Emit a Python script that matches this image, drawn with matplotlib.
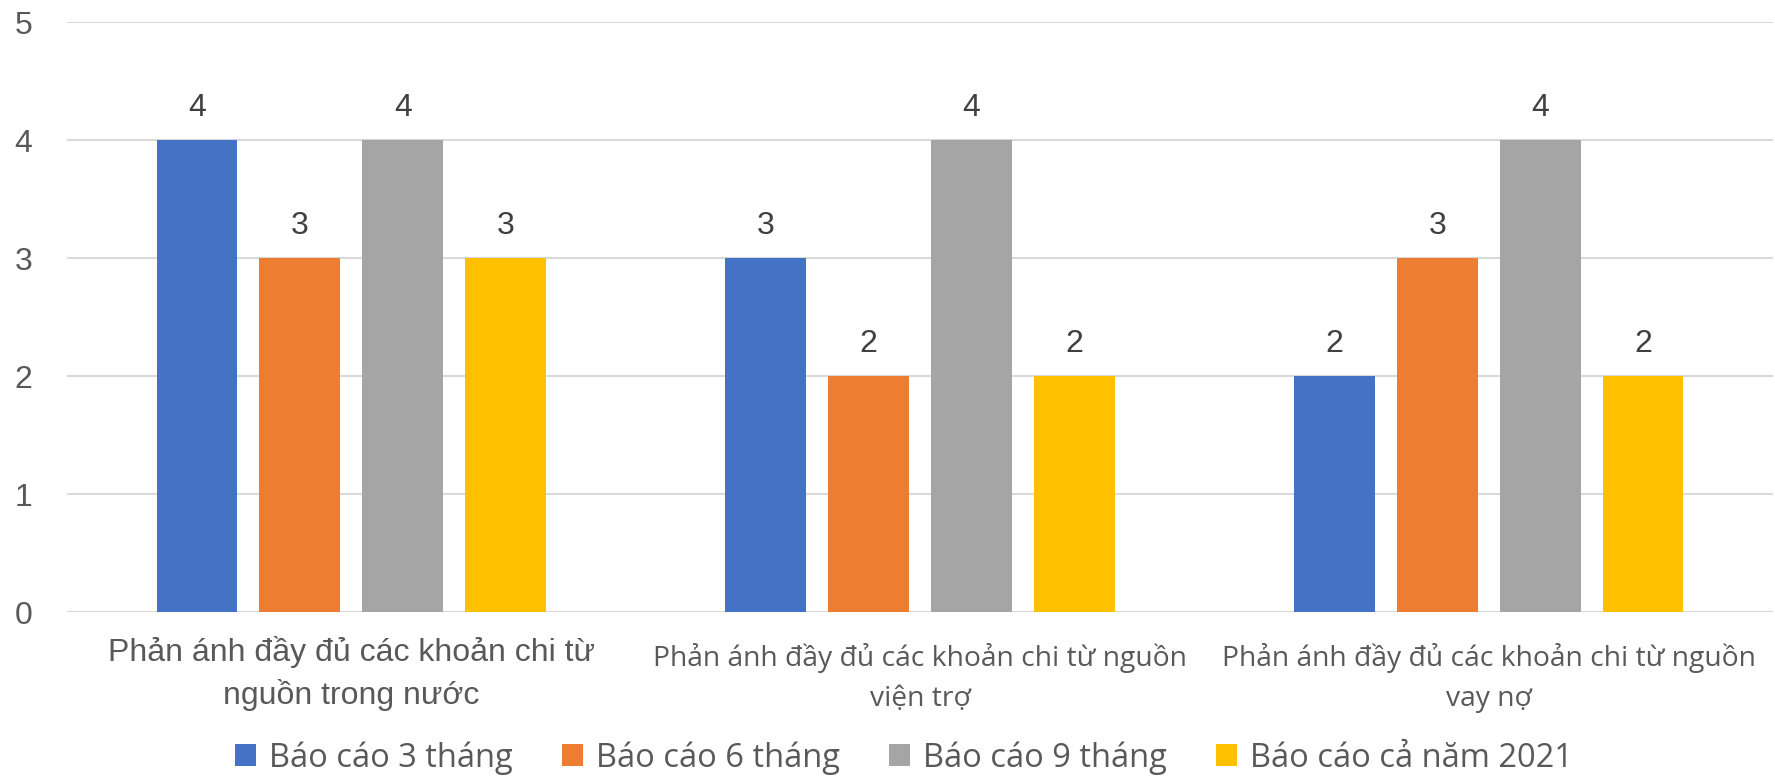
import matplotlib
matplotlib.use("Agg")
import matplotlib.pyplot as plt
import numpy as np

categories = ["Phản ánh đầy đủ các khoản chi từ\nnguồn trong nước",
              "Phản ánh đầy đủ các khoản chi từ nguồn\nviện trợ",
              "Phản ánh đầy đủ các khoản chi từ nguồn\nvay nợ"]
series_names = ["Báo cáo 3 tháng", "Báo cáo 6 tháng", "Báo cáo 9 tháng", "Báo cáo cả năm 2021"]
v_3thang = [4, 3, 2]
v_6thang = [3, 2, 3]
v_9thang = [4, 4, 4]
v_canam = [3, 2, 2]
colors = ["#4472C4", "#ED7D31", "#A5A5A5", "#FFC000"]
yticks = [0, 1, 2, 3, 4, 5]

narrow = "Open Sans"
tc = "#595959"

fig = plt.figure(figsize=(17.75, 7.77), dpi=100)
ax = fig.add_axes([67/1775, 1-612/777, (1773-67)/1775, 590/777])

x = np.arange(len(categories))
step = 0.181
width = 0.142
data = [v_3thang, v_6thang, v_9thang, v_canam]
for i, (vals, c, n) in enumerate(zip(data, colors, series_names)):
    bars = ax.bar(x + (i - 1.5) * step, vals, width, color=c, label=n, zorder=3)
    for b, v in zip(bars, vals):
        ax.text(b.get_x() + b.get_width()/2, v + 0.14, f"{v}", ha="center", va="bottom",
                fontsize=23, color="#404040", family="Liberation Sans")

ax.set_xlim(-0.5, 2.5)
ax.set_ylim(0, 5)
ax.set_yticks(yticks)
ax.set_yticklabels([str(t) for t in yticks], fontsize=23, color=tc, family="Liberation Sans")
ax.yaxis.grid(True, color="#D9D9D9", linewidth=1.5, zorder=0)
ax.tick_params(axis="both", length=0)
ax.tick_params(axis="y", pad=25)
for s in ax.spines.values():
    s.set_visible(False)
ax.set_xticks(x)
ax.set_xticklabels([])
fams = ["Liberation Sans", narrow, narrow]
sizes = [23, 20.3, 20.3]
yoffs = [-0.2, -0.26, -0.26]
lsp = [1.45, 1.6, 1.6]
for xi, lab, fam, sz, yo, ls in zip(x, categories, fams, sizes, yoffs, lsp):
    ax.text(xi, yo, lab, ha="center", va="top", fontsize=sz, color=tc,
            family=fam, linespacing=ls, transform=ax.transData)

leg = fig.legend(loc="center", bbox_to_anchor=(904/1775, 1-758/777), ncol=4, frameon=False,
                 prop={"family": narrow, "size": 23.5}, handlelength=0.65, handleheight=0.65,
                 handletextpad=0.4, columnspacing=1.5)
for t in leg.get_texts():
    t.set_color(tc)

fig.savefig("out.png", dpi=100)
